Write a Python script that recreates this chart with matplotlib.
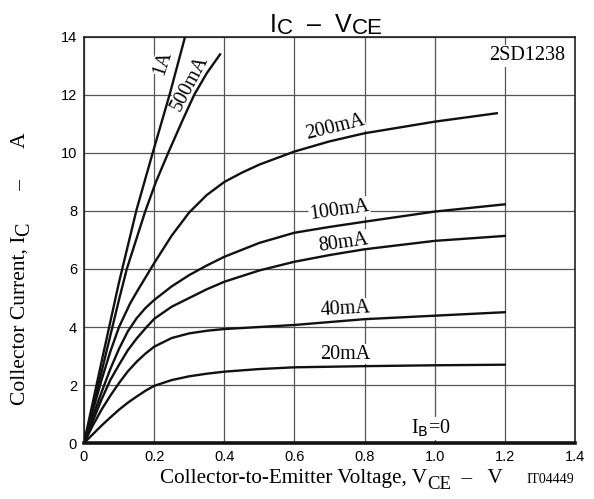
import matplotlib
matplotlib.use('Agg')
import matplotlib.pyplot as plt

plt.rcParams['font.family'] = ['Liberation Serif', 'DejaVu Serif']

# Ic - Vce curves (V, A)
vce_1a = [0, 0.05, 0.1, 0.15, 0.197, 0.245, 0.288]
ic_1a = [0, 2.8, 5.55, 8.05, 10.05, 12.05, 14.0]

vce_500ma = [0, 0.05, 0.1, 0.122, 0.175, 0.205, 0.24, 0.28, 0.314, 0.35, 0.388]
ic_500ma = [0, 2.45, 4.95, 6.0, 8.0, 9.0, 10.0, 11.1, 12.0, 12.75, 13.4]

vce_200ma = [0, 0.025, 0.05, 0.075, 0.1, 0.131, 0.15, 0.175, 0.2, 0.25, 0.3,
             0.35, 0.4, 0.45, 0.5, 0.6, 0.7, 0.8, 1.0, 1.177]
ic_200ma = [0, 1.1, 2.17, 3.15, 4.0, 4.8, 5.2, 5.7, 6.2, 7.15, 7.95,
            8.55, 9.0, 9.32, 9.6, 10.05, 10.4, 10.68, 11.08, 11.37]

vce_100ma = [0, 0.025, 0.05, 0.075, 0.1, 0.125, 0.15, 0.175, 0.2, 0.25, 0.3,
             0.35, 0.4, 0.5, 0.6, 0.7, 0.8, 1.0, 1.2]
ic_100ma = [0, 0.9, 1.75, 2.55, 3.25, 3.85, 4.3, 4.65, 4.93, 5.4, 5.79,
            6.12, 6.42, 6.9, 7.25, 7.45, 7.63, 7.98, 8.23]

vce_80ma = [0, 0.05, 0.075, 0.1, 0.125, 0.15, 0.175, 0.2, 0.25, 0.3, 0.35,
            0.4, 0.5, 0.6, 0.7, 0.8, 1.0, 1.2]
ic_80ma = [0, 1.5, 2.17, 2.7, 3.2, 3.6, 3.95, 4.28, 4.7, 5.0, 5.3,
           5.56, 5.95, 6.25, 6.48, 6.68, 6.97, 7.14]

vce_40ma = [0, 0.025, 0.05, 0.075, 0.1, 0.125, 0.15, 0.175, 0.2, 0.25, 0.3,
            0.35, 0.4, 0.5, 0.6, 0.8, 1.0, 1.2]
ic_40ma = [0, 0.6, 1.15, 1.63, 2.07, 2.47, 2.8, 3.08, 3.32, 3.62, 3.78,
           3.87, 3.93, 4.0, 4.07, 4.27, 4.39, 4.51]

vce_20ma = [0, 0.025, 0.05, 0.075, 0.1, 0.125, 0.15, 0.175, 0.2, 0.25, 0.3,
            0.35, 0.4, 0.5, 0.6, 0.8, 1.0, 1.2]
ic_20ma = [0, 0.3, 0.6, 0.88, 1.15, 1.39, 1.6, 1.8, 1.97, 2.17, 2.3,
           2.39, 2.46, 2.55, 2.61, 2.65, 2.68, 2.7]

vce_ib0 = [0, 1.4]
ic_ib0 = [0, 0]

curves = [
    (vce_1a, ic_1a), (vce_500ma, ic_500ma), (vce_200ma, ic_200ma),
    (vce_100ma, ic_100ma), (vce_80ma, ic_80ma), (vce_40ma, ic_40ma),
    (vce_20ma, ic_20ma),
]

# curve labels: text, x, y, rotation
labels = [
    ('1A', 0.225, 13.1, 72),
    ('500mA', 0.302, 12.4, 62),
    ('200mA', 0.716, 10.87, 14),
    ('100mA', 0.728, 8.03, 8),
    ('80mA', 0.741, 6.91, 8),
    ('40mA', 0.746, 4.61, 3),
    ('20mA', 0.746, 3.06, 0),
]

xticks = [0, 0.2, 0.4, 0.6, 0.8, 1.0, 1.2, 1.4]
xticklabels = ['0', '0.2', '0.4', '0.6', '0.8', '1.0', '1.2', '1.4']
yticks = [0, 2, 4, 6, 8, 10, 12, 14]

fig = plt.figure(figsize=(5.94, 4.99), dpi=100)
ax = fig.add_axes([0.1414, 0.1122, 0.8266, 0.8137])


def chain_h(x, y, pieces, family):
    # horizontal text made of pieces; each piece: (text, size, drop in pt)
    last = None
    for txt, size, drop in pieces:
        if last is None:
            last = fig.text(x, y, txt, fontsize=size, family=family,
                            ha='left', va='baseline')
        else:
            last = ax.annotate(txt, xy=(1, y), xycoords=(last, 'figure fraction'),
                               xytext=(0, -drop), textcoords='offset points',
                               fontsize=size, family=family, ha='left', va='baseline',
                               annotation_clip=False)


def chain_v(x, y, pieces, family):
    # vertical (rotated 90) text; drop moves the piece to the right
    last = None
    for txt, size, drop in pieces:
        if last is None:
            last = fig.text(x, y, txt, fontsize=size, family=family, rotation=90,
                            ha='right', va='bottom')
        else:
            last = ax.annotate(txt, xy=(x, 1), xycoords=('figure fraction', last),
                               xytext=(drop, 0), textcoords='offset points',
                               fontsize=size, family=family, rotation=90,
                               ha='right', va='bottom', annotation_clip=False)


for v, i in curves:
    ax.plot(v, i, color='#111111', lw=1.7, zorder=4, solid_joinstyle='round')
ax.plot(vce_ib0, ic_ib0, color='#111111', lw=2.6, zorder=4, clip_on=False)

for txt, x, y, rot in labels:
    ax.text(x, y, txt, fontsize=14.5, rotation=rot, ha='center', va='center',
            rotation_mode='anchor', zorder=3,
            bbox=dict(facecolor='white', edgecolor='none', pad=0.5))

ax.text(0.99, 0.5, r'I$_{\mathrm{B}}$=0', fontsize=14.5, ha='center', va='center',
        zorder=3, bbox=dict(facecolor='white', edgecolor='none', pad=0.5))
ax.text(1.264, 13.35, '2SD1238', fontsize=14.5, ha='center', va='center',
        zorder=3, bbox=dict(facecolor='white', edgecolor='none', pad=1))

ax.set_xlim(0, 1.4)
ax.set_ylim(0, 14)
ax.set_xticks(xticks)
ax.set_xticklabels(xticklabels)
ax.set_yticks(yticks)
for lab in ax.get_xticklabels() + ax.get_yticklabels():
    lab.set_family('Liberation Sans')
    lab.set_fontsize(10.5)
ax.tick_params(length=0, pad=5)
ax.grid(True, color='#555555', lw=0.9)
ax.set_axisbelow(True)
for s in ax.spines.values():
    s.set_linewidth(1.2)
    s.set_color('#222222')

# axis titles with large, lowered subscripts as in the datasheet
chain_h(0.269, 0.033, [('Collector-to-Emitter Voltage, V', 15.2, 0),
                       ('CE', 13.5, 4.5), ('  –   V', 15.2, 0)], 'Liberation Serif')
chain_v(0.05, 0.188, [('Collector Current, I', 15.5, 0),
                      ('C', 14.5, 3), ('      –      A', 15.5, 0)], 'Liberation Serif')
fig.text(0.887, 0.033, 'IT04449', fontsize=10, ha='left', va='baseline')
chain_h(0.4545, 0.9365, [('I', 18, 0), ('C', 16, 2), ('  –  V', 18, 0),
                         ('CE', 16, 2)], 'Liberation Sans')

fig.savefig('out.png', dpi=100)
